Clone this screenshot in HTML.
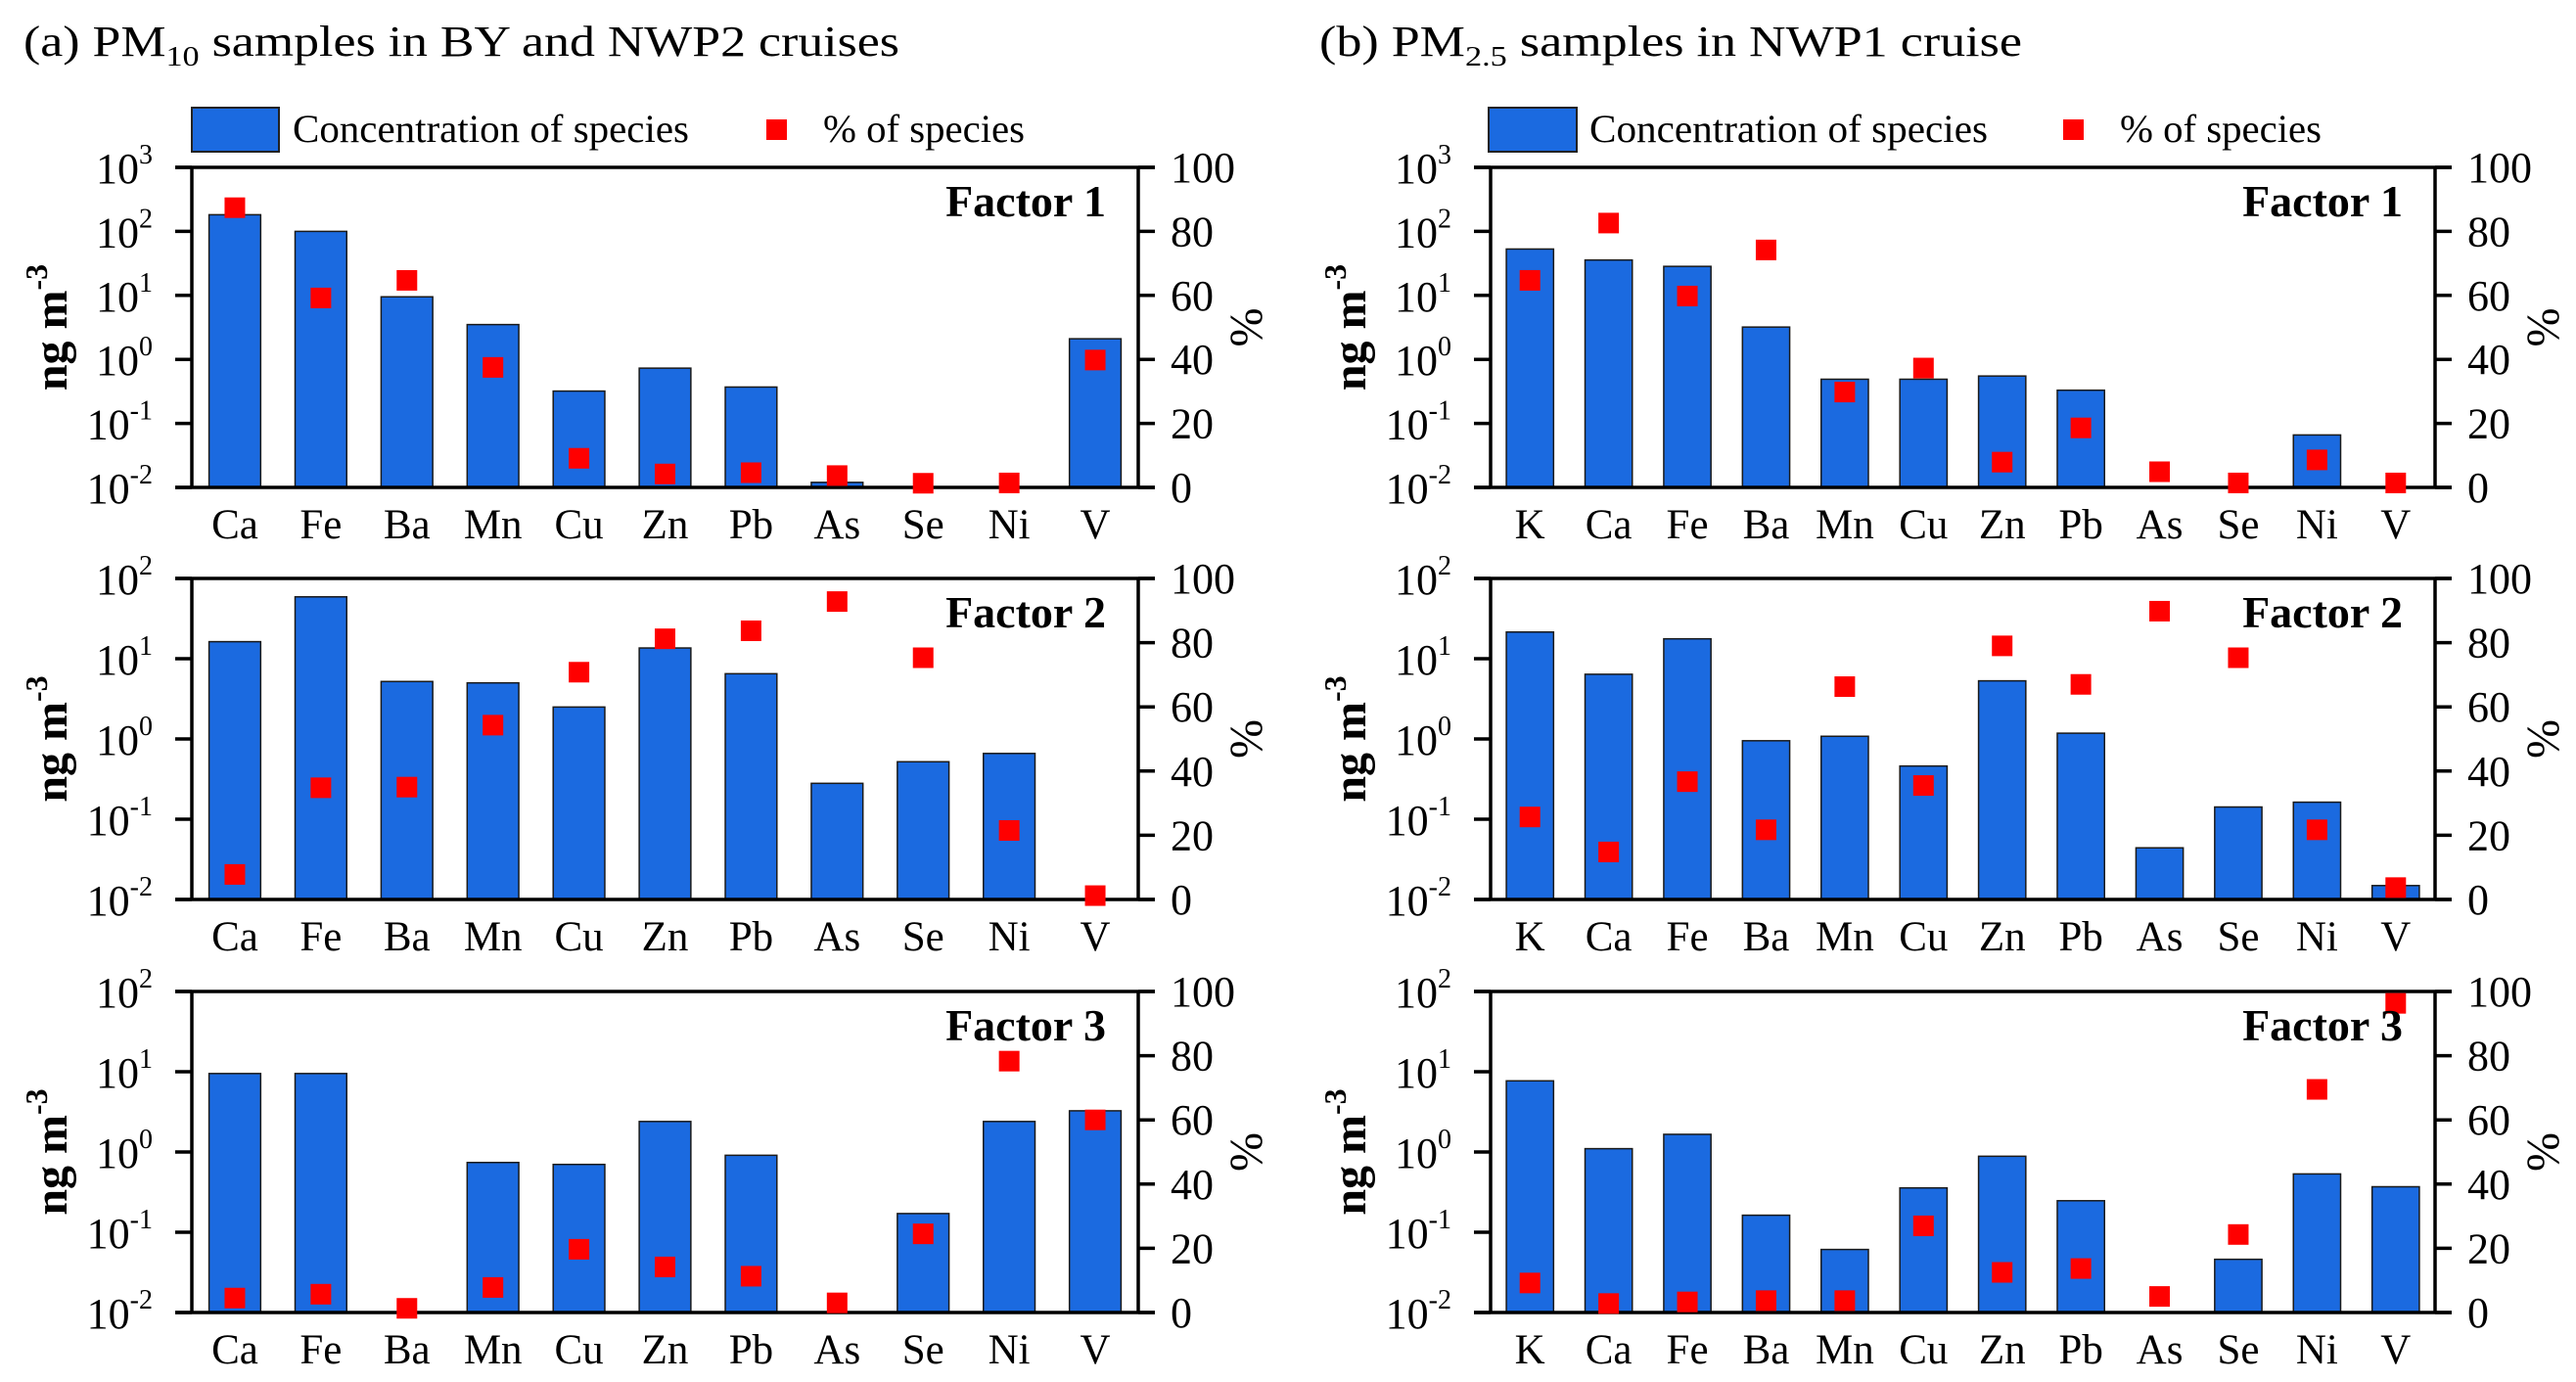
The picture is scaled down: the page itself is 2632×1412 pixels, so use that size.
<!DOCTYPE html>
<html><head><meta charset="utf-8"><style>
html,body{margin:0;padding:0;background:#fff;}
svg{display:block;font-family:"Times New Roman","Liberation Serif","DejaVu Serif",serif;}
svg text{font-family:"Times New Roman","Liberation Serif","DejaVu Serif",serif;}
</style></head><body>
<svg id="chart" width="2632" height="1412" viewBox="0 0 2632 1412" xmlns="http://www.w3.org/2000/svg">
<text x="24" y="57" font-size="44" textLength="895" lengthAdjust="spacingAndGlyphs">(a) PM<tspan font-size="29" dy="10">10</tspan><tspan dy="-10"> samples in BY and NWP2 cruises</tspan></text>
<text x="1348" y="57" font-size="44" textLength="718" lengthAdjust="spacingAndGlyphs">(b) PM<tspan font-size="29" dy="10">2.5</tspan><tspan dy="-10"> samples in NWP1 cruise</tspan></text>
<g>
<rect x="196" y="110" width="89" height="45" fill="#1b6ae0" stroke="#222" stroke-width="2"/>
<text x="299" y="145" font-size="40" textLength="405" lengthAdjust="spacingAndGlyphs">Concentration of species</text>
<rect x="783" y="122" width="21" height="21" fill="#ff0000"/>
<text x="841" y="145" font-size="40" textLength="206" lengthAdjust="spacingAndGlyphs">% of species</text>
</g>
<g>
<rect x="1521" y="110" width="90" height="45" fill="#1b6ae0" stroke="#222" stroke-width="2"/>
<text x="1624" y="145" font-size="40" textLength="407" lengthAdjust="spacingAndGlyphs">Concentration of species</text>
<rect x="2108" y="122" width="21" height="21" fill="#ff0000"/>
<text x="2166" y="145" font-size="40" textLength="206" lengthAdjust="spacingAndGlyphs">% of species</text>
</g>
</svg>
<script>
// ---- data ----
const catsA = ["Ca","Fe","Ba","Mn","Cu","Zn","Pb","As","Se","Ni","V"];
const catsB = ["K","Ca","Fe","Ba","Mn","Cu","Zn","Pb","As","Se","Ni","V"];
const factorNames = ["Factor 1","Factor 2","Factor 3"];
const decadesF1 = [-2,-1,0,1,2,3];
const decadesF23 = [-2,-1,0,1,2];
const pctTicks = [0,20,40,60,80,100];
// panel a concentrations (ng m-3), null = below axis
const concA1 = [182,100,9.5,3.5,0.32,0.73,0.37,0.012,null,null,2.1];
const concA2 = [16.3,59,5.2,5.0,2.5,13.6,6.5,0.28,0.52,0.66,null];
const concA3 = [9.5,9.5,null,0.74,0.70,2.4,0.91,null,0.171,2.4,3.26];
// panel a percentages
const pctA1 = [87.4,59.2,64.7,37.5,9.1,4.2,4.6,3.7,1.3,1.4,39.8];
const pctA2 = [7.8,34.8,35,54.3,70.8,81.2,83.7,92.8,75.3,21.5,1.2];
const pctA3 = [4.5,5.7,1.3,7.8,19.7,14.2,11.3,3,24.5,78.3,60];
// panel b concentrations
const concB1 = [53,35.7,28.4,3.2,0.49,0.49,0.55,0.33,null,null,0.066,null];
const concB2 = [21.5,6.4,17.7,0.95,1.08,0.46,5.3,1.18,0.044,0.142,0.163,0.0149];
const concB3 = [7.7,1.1,1.66,0.163,0.061,0.357,0.885,0.247,null,0.046,0.533,0.369];
// panel b percentages
const pctB1 = [64.7,82.6,59.8,74.2,29.8,37.3,7.9,18.6,4.9,1.4,8.6,1.4];
const pctB2 = [25.7,14.8,36.7,21.7,66.3,35.5,79,67,89.8,75.3,21.7,3.7];
const pctB3 = [9.2,2.8,3.3,3.7,3.7,27,12.5,13.7,5,24.3,69.5,96.3];

const NS = "http://www.w3.org/2000/svg";
const svg = document.getElementById("chart");
function mk(tag, attrs, parent){
  const e = document.createElementNS(NS, tag);
  for (const k in attrs) e.setAttribute(k, attrs[k]);
  (parent||svg).appendChild(e);
  return e;
}
const rows = [{top:171,bot:498},{top:591,bot:919},{top:1013,bot:1341}];
const panels = [
  {id:"a", left:196, right:1163, cats:catsA, conc:[concA1,concA2,concA3], pct:[pctA1,pctA2,pctA3]},
  {id:"b", left:1523, right:2488, cats:catsB, conc:[concB1,concB2,concB3], pct:[pctB1,pctB2,pctB3]}
];

panels.forEach(p => {
  rows.forEach((r, fi) => {
    const g = mk("g", {});
    
    
    const decs = fi === 0 ? decadesF1 : decadesF23;
    const dmin = decs[0], dmax = decs[decs.length-1];
    const yLog = v => r.bot - (Math.log10(v) - dmin) / (dmax - dmin) * (r.bot - r.top);
    const yPct = v => r.bot - v / 100 * (r.bot - r.top);
    const n = p.cats.length;
    const bw = (p.right - p.left) / n;
    const xC = i => p.left + (i + 0.5) * bw;
    p.conc[fi].forEach((v, i) => {
      if (v === null || v <= Math.pow(10, dmin)) return;
      const y = yLog(v);
      const b = mk("rect", {x: xC(i) - bw*0.3, y: y, width: bw*0.6, height: r.bot - y, fill:"#1b6ae0", stroke:"#1a1a1a", "stroke-width":1.5}, g);
      
      
    });
    const ax = mk("g", {stroke:"#000", "stroke-width":3.5, fill:"none"}, g);
    
    
    mk("line", {x1:p.left-17, y1:r.top, x2:p.right+17, y2:r.top}, ax);
    mk("line", {x1:p.left-17, y1:r.bot, x2:p.right+17, y2:r.bot}, ax);
    mk("line", {x1:p.left, y1:r.top, x2:p.left, y2:r.bot}, ax);
    mk("line", {x1:p.right, y1:r.top, x2:p.right, y2:r.bot}, ax);
    decs.forEach(d => {
      const y = yLog(Math.pow(10, d));
      mk("line", {x1:p.left-17, y1:y, x2:p.left, y2:y}, ax);
      const t = mk("text", {x:p.left-40, y:y+16, "font-size":44, "text-anchor":"end"}, g);
      
      
      t.appendChild(document.createTextNode("10"));
      const s = mk("tspan", {"font-size":28, dy:-20}, t);
      s.textContent = String(d);
    });
    pctTicks.forEach(v => {
      const y = yPct(v);
      mk("line", {x1:p.right, y1:y, x2:p.right+17, y2:y}, ax);
      const t = mk("text", {x:p.right+33, y:y+15, "font-size":44}, g);
      
      
      t.textContent = String(v);
    });
    p.cats.forEach((c, i) => {
      const t = mk("text", {x:xC(i), y:r.bot+52, "font-size":43, "text-anchor":"middle"}, g);
      
      
      t.textContent = c;
    });
    p.pct[fi].forEach((v, i) => {
      const y = yPct(v);
      const m = mk("rect", {x:xC(i)-10.5, y:y-10.5, width:21, height:21, fill:"#ff0000"}, g);
      
      
    });
    const fl = mk("text", {x:p.right-33, y:r.top+50, "font-size":46, "font-weight":"bold", "text-anchor":"end"}, g);
    
    
    fl.textContent = factorNames[fi];
    const cy = (r.top + r.bot) / 2;
    const yt = mk("text", {x:0, y:0, "font-size":48, "font-weight":"bold", "text-anchor":"middle", transform:"translate(" + (p.left-128) + "," + cy + ") rotate(-90)"}, g);
    
    
    yt.appendChild(document.createTextNode("ng m"));
    const ys = mk("tspan", {"font-size":32, dy:-20}, yt);
    ys.textContent = "-3";
    const rt = mk("text", {x:0, y:0, "font-size":48, "text-anchor":"middle", transform:"translate(" + (p.right+95) + "," + cy + ") rotate(90)"}, g);
    
    
    rt.textContent = "%";
  });
});
</script>
</body></html>
